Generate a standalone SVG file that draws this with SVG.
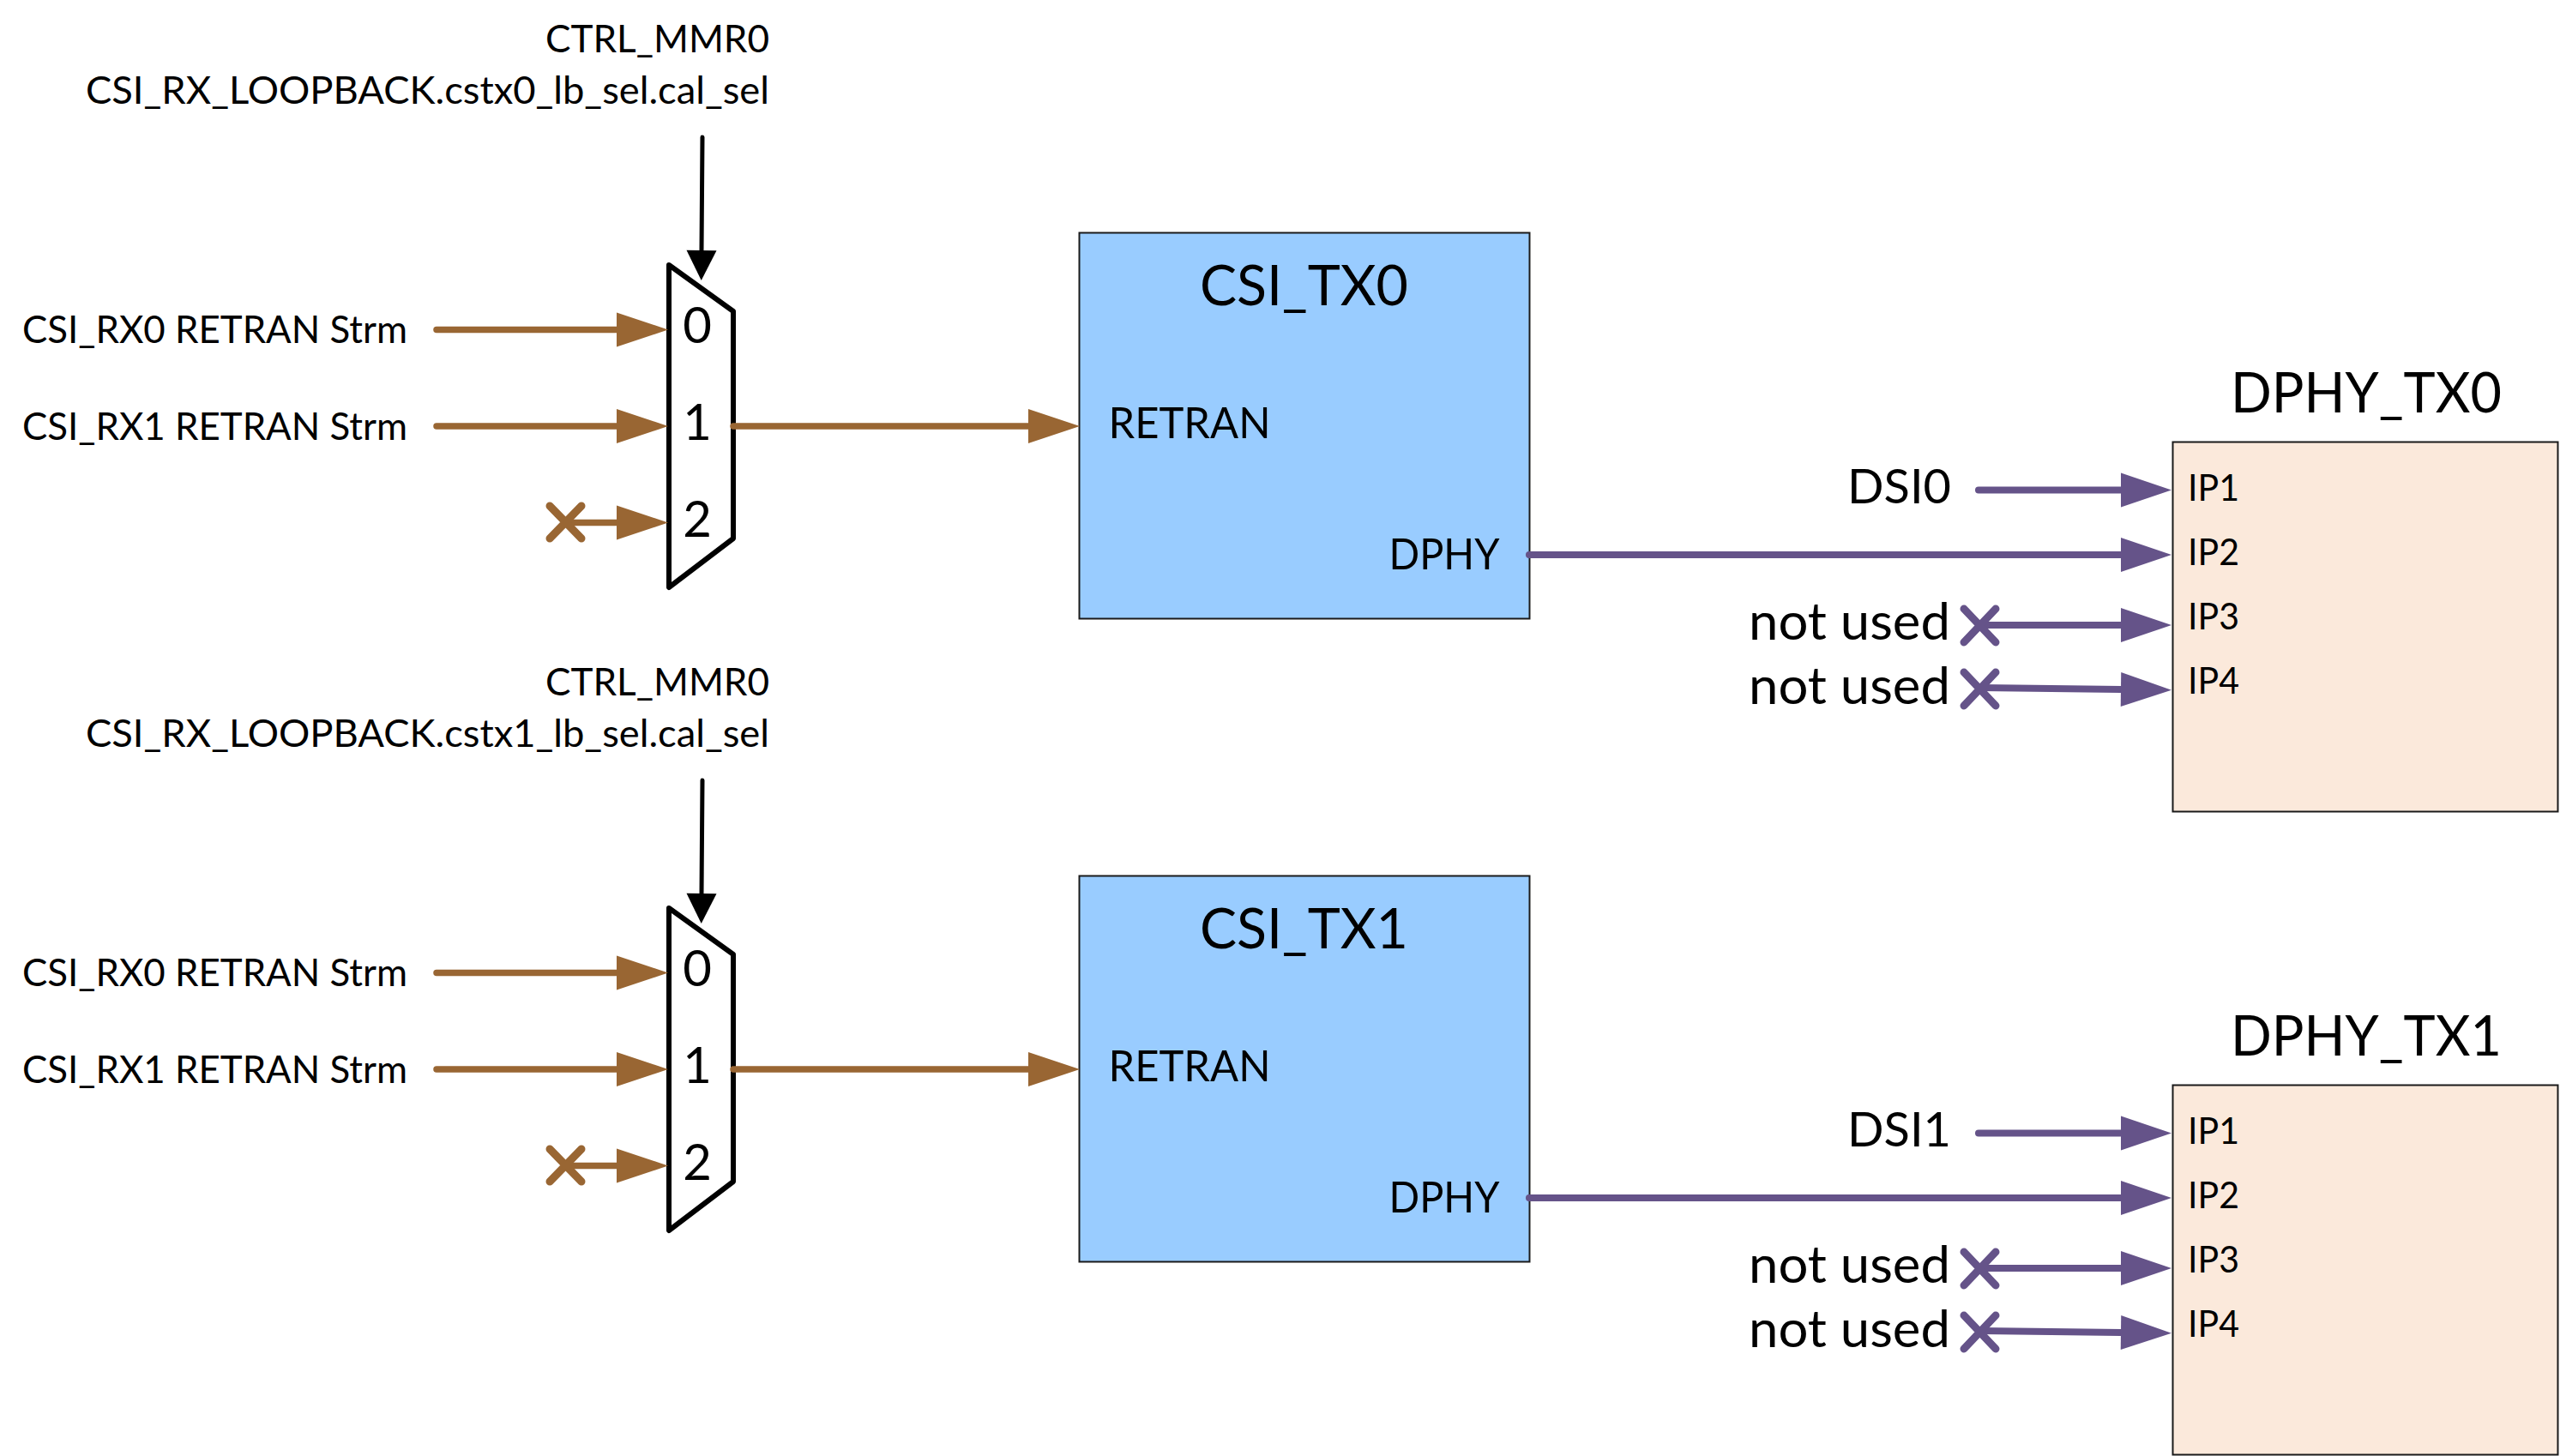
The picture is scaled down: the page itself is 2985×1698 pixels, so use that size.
<svg xmlns="http://www.w3.org/2000/svg" width="2985" height="1698" viewBox="0 0 2985 1698">
  <style>
    text { font-family: "Lato", "Liberation Sans", sans-serif; fill: #000; }
    .s44 { font-size: 44px; }
    .s42 { font-size: 43px; }
    .s50 { font-size: 50px; }
    .s58 { font-size: 58px; text-anchor: middle; }
    .s57 { font-size: 57px; }
    .s60 { font-size: 60px; }
    .s65 { font-size: 65px; }
    .mux { fill: #fff; stroke: #000; stroke-width: 6; stroke-linejoin: round; }
    .csi { fill: #99ccff; stroke: #1a1a1a; stroke-width: 2; }
    .phy { fill: #fbe9db; stroke: #1a1a1a; stroke-width: 2; }
    .br { fill: none; stroke: #996633; stroke-width: 7.5; stroke-linecap: round; }
    .pu { fill: none; stroke: #655389; stroke-width: 8; stroke-linecap: round; }
    .ctl { fill: none; stroke: #000; stroke-width: 5; stroke-linecap: round; }
    .cross { stroke-width: 9; }
    .hb { marker-end: url(#headBrown); }
    .hp { marker-end: url(#headPurple); }
    .hk { marker-end: url(#headBlack); }
  </style>
  <defs>
    <marker id="headBrown" markerUnits="userSpaceOnUse" markerWidth="60" markerHeight="40" refX="0" refY="20" orient="auto" overflow="visible">
      <path d="M0 0L60 20L0 40Z" fill="#996633"/>
    </marker>
    <marker id="headPurple" markerUnits="userSpaceOnUse" markerWidth="59" markerHeight="40" refX="0" refY="20" orient="auto" overflow="visible">
      <path d="M0 0L59 20L0 40Z" fill="#655389"/>
    </marker>
    <marker id="headBlack" markerUnits="userSpaceOnUse" markerWidth="35" markerHeight="35" refX="0" refY="17.5" orient="auto" overflow="visible">
      <path d="M0 0L35 17.5L0 35Z" fill="#000"/>
    </marker>
  </defs>

  <g id="mux0">
    <path class="mux" d="M780 309L855 363V628L780 685Z"/>
    <text class="s58" x="813" y="400">0</text>
    <text class="s58" x="813" y="513">1</text>
    <text class="s58" x="813" y="626">2</text>
  </g>
  <g id="mux1">
    <path class="mux" d="M780 1059L855 1113V1378L780 1435Z"/>
    <text class="s58" x="813" y="1150">0</text>
    <text class="s58" x="813" y="1263">1</text>
    <text class="s58" x="813" y="1376">2</text>
  </g>

  <g id="csi_tx0">
    <rect class="csi" x="1258.5" y="271.5" width="525" height="450"/>
    <text class="s65" x="1399" y="356" textLength="243" lengthAdjust="spacingAndGlyphs">CSI_TX0</text>
    <text class="s50" x="1292.500" y="511" textLength="189" lengthAdjust="spacingAndGlyphs">RETRAN</text>
    <text class="s50" x="1619.500" y="664" textLength="129" lengthAdjust="spacingAndGlyphs">DPHY</text>
  </g>
  <g id="csi_tx1">
    <rect class="csi" x="1258.5" y="1021.5" width="525" height="450"/>
    <text class="s65" x="1399" y="1106" textLength="243" lengthAdjust="spacingAndGlyphs">CSI_TX1</text>
    <text class="s50" x="1292.500" y="1261" textLength="189" lengthAdjust="spacingAndGlyphs">RETRAN</text>
    <text class="s50" x="1619.500" y="1414" textLength="129" lengthAdjust="spacingAndGlyphs">DPHY</text>
  </g>

  <g id="dphy_tx0">
    <rect class="phy" x="2533.5" y="515.5" width="449" height="431"/>
    <text class="s65" x="2601" y="481" textLength="316" lengthAdjust="spacingAndGlyphs">DPHY_TX0</text>
    <text class="s42" x="2551" y="583.5" textLength="60" lengthAdjust="spacingAndGlyphs">IP1</text>
    <text class="s42" x="2551" y="658.5" textLength="60" lengthAdjust="spacingAndGlyphs">IP2</text>
    <text class="s42" x="2551" y="733.5" textLength="60" lengthAdjust="spacingAndGlyphs">IP3</text>
    <text class="s42" x="2551" y="808.5" textLength="60" lengthAdjust="spacingAndGlyphs">IP4</text>
  </g>
  <g id="dphy_tx1">
    <rect class="phy" x="2533.5" y="1265.5" width="449" height="431"/>
    <text class="s65" x="2601" y="1231" textLength="316" lengthAdjust="spacingAndGlyphs">DPHY_TX1</text>
    <text class="s42" x="2551" y="1333.5" textLength="60" lengthAdjust="spacingAndGlyphs">IP1</text>
    <text class="s42" x="2551" y="1408.5" textLength="60" lengthAdjust="spacingAndGlyphs">IP2</text>
    <text class="s42" x="2551" y="1483.5" textLength="60" lengthAdjust="spacingAndGlyphs">IP3</text>
    <text class="s42" x="2551" y="1558.5" textLength="60" lengthAdjust="spacingAndGlyphs">IP4</text>
  </g>

  <g id="labels">
    <text class="s44" x="636" y="61" textLength="261" lengthAdjust="spacingAndGlyphs">CTRL_MMR0</text>
    <text class="s44" x="100" y="121" textLength="797" lengthAdjust="spacingAndGlyphs">CSI_RX_LOOPBACK.cstx0_lb_sel.cal_sel</text>
    <text class="s44" x="26" y="399.500" textLength="449" lengthAdjust="spacingAndGlyphs">CSI_RX0 RETRAN Strm</text>
    <text class="s44" x="26" y="512.500" textLength="449" lengthAdjust="spacingAndGlyphs">CSI_RX1 RETRAN Strm</text>
    <text class="s44" x="636" y="811" textLength="261" lengthAdjust="spacingAndGlyphs">CTRL_MMR0</text>
    <text class="s44" x="100" y="871" textLength="797" lengthAdjust="spacingAndGlyphs">CSI_RX_LOOPBACK.cstx1_lb_sel.cal_sel</text>
    <text class="s44" x="26" y="1149.500" textLength="449" lengthAdjust="spacingAndGlyphs">CSI_RX0 RETRAN Strm</text>
    <text class="s44" x="26" y="1262.500" textLength="449" lengthAdjust="spacingAndGlyphs">CSI_RX1 RETRAN Strm</text>
    <text class="s57" x="2154" y="587" textLength="121" lengthAdjust="spacingAndGlyphs">DSI0</text>
    <text class="s60" x="2039" y="745.500" textLength="235" lengthAdjust="spacingAndGlyphs">not used</text>
    <text class="s60" x="2039" y="820.500" textLength="235" lengthAdjust="spacingAndGlyphs">not used</text>
    <text class="s57" x="2154" y="1337" textLength="121" lengthAdjust="spacingAndGlyphs">DSI1</text>
    <text class="s60" x="2039" y="1495.500" textLength="235" lengthAdjust="spacingAndGlyphs">not used</text>
    <text class="s60" x="2039" y="1570.500" textLength="235" lengthAdjust="spacingAndGlyphs">not used</text>
  </g>

  <g id="connectors">
    <!-- select lines into the muxes -->
    <path class="ctl hk" d="M819 160L818 292"/>
    <path class="ctl hk" d="M819 910L818 1042"/>

    <!-- stream inputs and mux outputs, upper path -->
    <path class="br hb" d="M509 384.500H719"/>
    <path class="br hb" d="M509 497H719"/>
    <path class="br hb" d="M660 609.500H719"/>
    <path class="br cross" d="M641 590L678 628M678 590L641 628"/>
    <path class="br hb" d="M855 497H1199"/>

    <!-- stream inputs and mux outputs, lower path -->
    <path class="br hb" d="M509 1134.500H719"/>
    <path class="br hb" d="M509 1247H719"/>
    <path class="br hb" d="M660 1359.500H719"/>
    <path class="br cross" d="M641 1340L678 1378M678 1340L641 1378"/>
    <path class="br hb" d="M855 1247H1199"/>

    <!-- PHY inputs, upper path -->
    <path class="pu hp" d="M2307 571.500H2473"/>
    <path class="pu hp" d="M1783 647H2473"/>
    <path class="pu hp" d="M2310 729H2473"/>
    <path class="pu hp" d="M2310 802L2473 804"/>
    <path class="pu cross" d="M2290 710L2327 749M2327 710L2290 749"/>
    <path class="pu cross" d="M2290 784L2327 823M2327 784L2290 823"/>

    <!-- PHY inputs, lower path -->
    <path class="pu hp" d="M2307 1321.500H2473"/>
    <path class="pu hp" d="M1783 1397H2473"/>
    <path class="pu hp" d="M2310 1479H2473"/>
    <path class="pu hp" d="M2310 1552L2473 1554"/>
    <path class="pu cross" d="M2290 1460L2327 1499M2327 1460L2290 1499"/>
    <path class="pu cross" d="M2290 1534L2327 1573M2327 1534L2290 1573"/>
  </g>
</svg>
